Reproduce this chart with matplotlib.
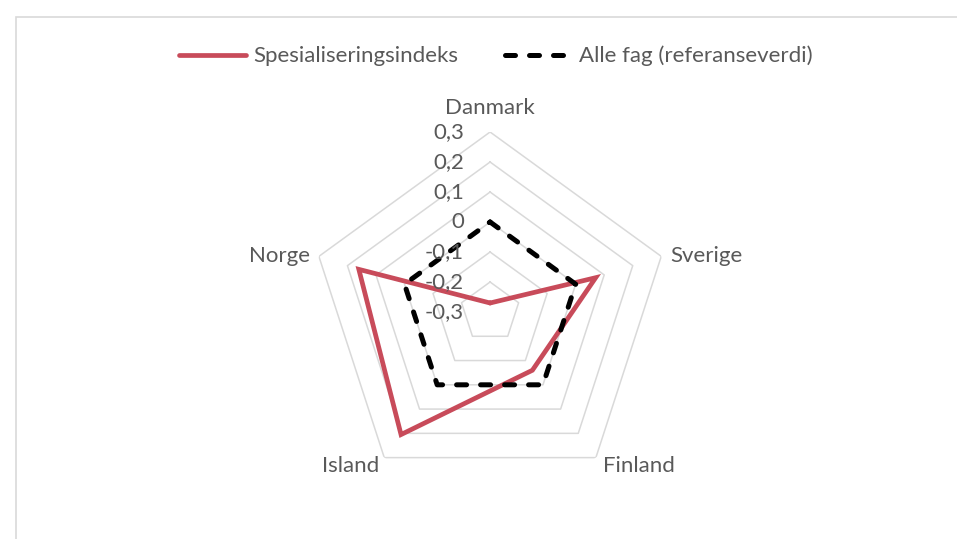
import numpy as np
import matplotlib
matplotlib.use('Agg')
import matplotlib.pyplot as plt
from matplotlib.patches import Rectangle

countries = ['Danmark', 'Sverige', 'Finland', 'Island', 'Norge']
spes_index = [-0.27, 0.07, -0.06, 0.205, 0.16]
alle_fag = [0.0, 0.0, 0.0, 0.0, 0.0]
rings = [-0.2, -0.1, 0.0, 0.1, 0.2, 0.3]
ring_labels = ['0,3', '0,2', '0,1', '0', '-0,1', '-0,2', '-0,3']
ring_values = [0.3, 0.2, 0.1, 0.0, -0.1, -0.2, -0.3]

text_color = '#595959'
grid_color = '#D9D9D9'
red = '#C84B5A'

plt.rcParams['font.family'] = ['Lato', 'DejaVu Sans']
plt.rcParams['font.size'] = 16

fig = plt.figure(figsize=(9.57, 5.39), dpi=100)
ax = fig.add_axes([0.324, 0.0872, 0.3762, 0.6679], projection='polar')
ax.set_theta_offset(np.pi / 2)
ax.set_theta_direction(-1)

theta = np.linspace(0, 2 * np.pi, len(countries), endpoint=False)
theta_closed = np.append(theta, theta[0])

# pentagon grid instead of circles
for r in rings:
    ax.plot(theta_closed, [r] * len(theta_closed), color=grid_color, lw=1.1, zorder=1)

ax.plot(theta_closed, np.append(alle_fag, alle_fag[0]), color='black', lw=3.6,
        ls=(0, (2.0, 2.8)), dash_capstyle='round', zorder=3,
        label='Alle fag (referanseverdi)')
ax.plot(theta_closed, np.append(spes_index, spes_index[0]), color=red, lw=3.4,
        solid_joinstyle='miter', solid_capstyle='round', zorder=2,
        label='Spesialiseringsindeks')

ax.set_ylim(-0.3, 0.3)
ax.set_xticks([])
ax.set_yticks([])
ax.grid(False)
ax.spines['polar'].set_visible(False)
ax.patch.set_visible(False)

for lab, v in zip(ring_labels, ring_values):
    ax.annotate(lab, xy=(0, v), xytext=(-26, 0), textcoords='offset pixels',
                ha='right', va='center', color=text_color)

offsets = [(0, 24, 'center'), (9, 0, 'left'), (7, -8, 'left'), (-5, -8, 'right'), (-9, 0, 'right')]
for name, t, (dx, dy, ha) in zip(countries, theta, offsets):
    ax.annotate(name, xy=(t, 0.3), xytext=(dx, dy), textcoords='offset pixels',
                ha=ha, va='center', color=text_color)

handles, labels = ax.get_legend_handles_labels()
leg = fig.legend(handles[::-1], labels[::-1], loc='center', bbox_to_anchor=(0.518, 0.896),
                 ncol=2, frameon=False, handlelength=3.05, handletextpad=0.3,
                 columnspacing=2.1)
for t in leg.get_texts():
    t.set_color(text_color)

fig.add_artist(Rectangle((16 / 957, -0.1), 1.2, 0.1 + (539 - 17) / 539,
                         transform=fig.transFigure, fill=False,
                         edgecolor=grid_color, lw=1.2))

fig.savefig('out.png', dpi=100)
